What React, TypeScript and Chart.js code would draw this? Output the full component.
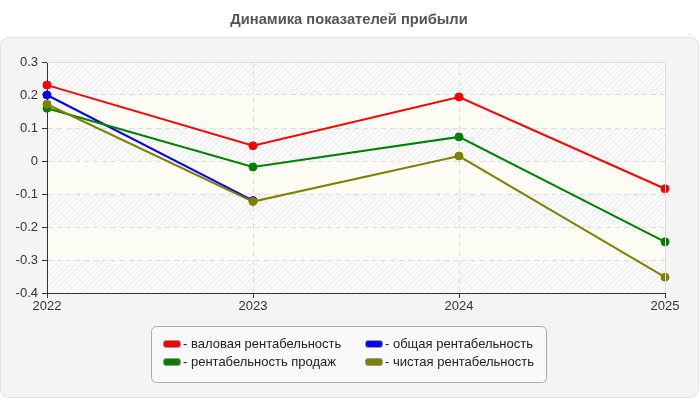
import { useEffect, useRef } from "react";
import { Chart, registerables } from "chart.js";

Chart.register(...registerables);

const chartTitle = "Динамика показателей прибыли";
const years = ["2022", "2023", "2024", "2025"];
const seriesNames = [
  "- валовая рентабельность",
  "- общая рентабельность",
  "- рентабельность продаж",
  "- чистая рентабельность",
];
const seriesColors = ["#ff0000", "#0000ff", "#008000", "#808000"];
const grossMargin = [0.23, 0.046, 0.194, -0.084];
const totalMargin = [0.2, -0.12, null, null];
const salesMargin = [0.16, -0.018, 0.073, -0.245];
const netMargin = [0.172, -0.123, 0.015, -0.352];
const yMin = -0.4;
const yMax = 0.3;
const yStep = 0.1;

const FONT = "'Liberation Sans', Arial, sans-serif";

function makeHatch(ctx: CanvasRenderingContext2D): CanvasPattern | string {
  const c = document.createElement("canvas");
  c.width = 5;
  c.height = 5;
  const p = c.getContext("2d");
  if (!p) return "#ffffff";
  p.fillStyle = "#ffffff";
  p.fillRect(0, 0, 5, 5);
  p.strokeStyle = "#e9e9e9";
  p.lineWidth = 1;
  p.beginPath();
  p.moveTo(0, 5);
  p.lineTo(5, 0);
  p.moveTo(-1, 1);
  p.lineTo(1, -1);
  p.moveTo(4, 6);
  p.lineTo(6, 4);
  p.stroke();
  return ctx.createPattern(c, "repeat") || "#ffffff";
}

function roundRect(ctx: CanvasRenderingContext2D, x: number, y: number, w: number, h: number, r: number) {
  ctx.beginPath();
  ctx.moveTo(x + r, y);
  ctx.lineTo(x + w - r, y);
  ctx.arcTo(x + w, y, x + w, y + r, r);
  ctx.lineTo(x + w, y + h - r);
  ctx.arcTo(x + w, y + h, x + w - r, y + h, r);
  ctx.lineTo(x + r, y + h);
  ctx.arcTo(x, y + h, x, y + h - r, r);
  ctx.lineTo(x, y + r);
  ctx.arcTo(x, y, x + r, y, r);
  ctx.closePath();
}

const backdrop = {
  id: "backdrop",
  beforeDraw(chart: Chart) {
    const ctx = chart.ctx;
    const { left, right } = chart.chartArea;
    ctx.save();
    ctx.fillStyle = "#ffffff";
    ctx.fillRect(0, 0, chart.width, chart.height);
    roundRect(ctx, 0.5, 37.5, 698, 360, 8);
    ctx.fillStyle = "#f4f4f4";
    ctx.fill();
    ctx.strokeStyle = "#e2e2e2";
    ctx.lineWidth = 1;
    ctx.stroke();

    // alternating bands between y ticks
    const yScale = chart.scales.y;
    const hatch = makeHatch(ctx);
    let i = 0;
    for (let v = yMax; v > yMin + 1e-9; v -= yStep) {
      const y1 = yScale.getPixelForValue(v);
      const y2 = yScale.getPixelForValue(v - yStep);
      ctx.fillStyle = i % 2 === 0 ? (hatch as any) : "#fdfdf6";
      ctx.fillRect(left, y1, right - left, y2 - y1);
      i++;
    }
    ctx.restore();
  },
  afterDraw(chart: Chart) {
    const ctx = chart.ctx;
    const { left, right, top, bottom } = chart.chartArea;
    ctx.save();
    // light frame on top and right
    ctx.strokeStyle = "#dddddd";
    ctx.lineWidth = 1;
    ctx.beginPath();
    ctx.moveTo(left, top + 0.5);
    ctx.lineTo(right + 0.5, top + 0.5);
    ctx.lineTo(right + 0.5, bottom);
    ctx.stroke();

    // title
    ctx.fillStyle = "#555555";
    ctx.font = `bold 14.7px ${FONT}`;
    ctx.textAlign = "center";
    ctx.textBaseline = "middle";
    ctx.fillText(chartTitle, 349, 20);

    // legend box
    roundRect(ctx, 151.5, 326.5, 395, 56, 5);
    ctx.fillStyle = "#f9f9f9";
    ctx.fill();
    ctx.strokeStyle = "#aaaaaa";
    ctx.stroke();

    const cols = [163, 365];
    const rows = [344, 362];
    ctx.font = `13px ${FONT}`;
    ctx.textAlign = "left";
    ctx.textBaseline = "middle";
    seriesNames.forEach((name, k) => {
      const x = cols[k % 2];
      const y = rows[Math.floor(k / 2)];
      roundRect(ctx, x + 0.5, y - 3.5, 17, 7, 2.5);
      ctx.fillStyle = seriesColors[k];
      ctx.fill();
      ctx.strokeStyle = "#999999";
      ctx.stroke();
      ctx.fillStyle = "#222222";
      ctx.fillText(name, x + 20, y + 0.5);
    });
    ctx.restore();
  },
};

export default function App() {
  const ref = useRef<HTMLCanvasElement>(null);

  useEffect(() => {
    if (!ref.current) return;
    const series = [grossMargin, totalMargin, salesMargin, netMargin];
    const drawOrder = [3, 2, 1, 0];
    const chart = new Chart(ref.current, {
      type: "line",
      data: {
        labels: years,
        datasets: series.map((d, k) => ({
          label: seriesNames[k],
          data: d,
          borderColor: seriesColors[k],
          backgroundColor: seriesColors[k],
          pointBackgroundColor: seriesColors[k],
          pointBorderColor: seriesColors[k],
          borderWidth: 2,
          pointRadius: 4,
          pointBorderWidth: 1,
          tension: 0,
          spanGaps: false,
          order: drawOrder[k],
        })),
      },
      plugins: [backdrop],
      options: {
        animation: false,
        responsive: false,
        events: [],
        layout: { padding: { left: 0, top: 62, right: 35, bottom: 0 } },
        plugins: {
          legend: { display: false },
          title: { display: false },
          tooltip: { enabled: false },
        },
        scales: {
          x: {
            type: "category",
            offset: false,
            afterFit(s: any) {
              s.height = 107;
            },
            grid: {
              color: "#dddddd",
              tickColor: "#333333",
              tickLength: 5,
              drawOnChartArea: true,
            },
            border: { color: "#333333", width: 1, dash: [5, 4] },
            ticks: {
              color: "#333333",
              font: { family: FONT, size: 13 },
              padding: 1,
              maxRotation: 0,
            },
          },
          y: {
            min: yMin,
            max: yMax,
            afterFit(s: any) {
              s.width = 47;
            },
            grid: {
              color: "#dddddd",
              tickColor: "#333333",
              tickLength: 5,
            },
            border: { color: "#333333", width: 1, dash: [5, 4] },
            ticks: {
              stepSize: yStep,
              color: "#333333",
              font: { family: FONT, size: 13 },
              padding: 4,
              callback: (v: any) => {
                const n = Math.round(Number(v) * 10) / 10;
                return n === 0 ? "0" : String(n);
              },
            },
          },
        },
      },
    });
    return () => chart.destroy();
  }, []);

  return (
    <div style={{ position: "fixed", left: 0, top: 0, width: 700, height: 400 }}>
      <canvas ref={ref} width={700} height={400} style={{ width: 700, height: 400 }} />
    </div>
  );
}
